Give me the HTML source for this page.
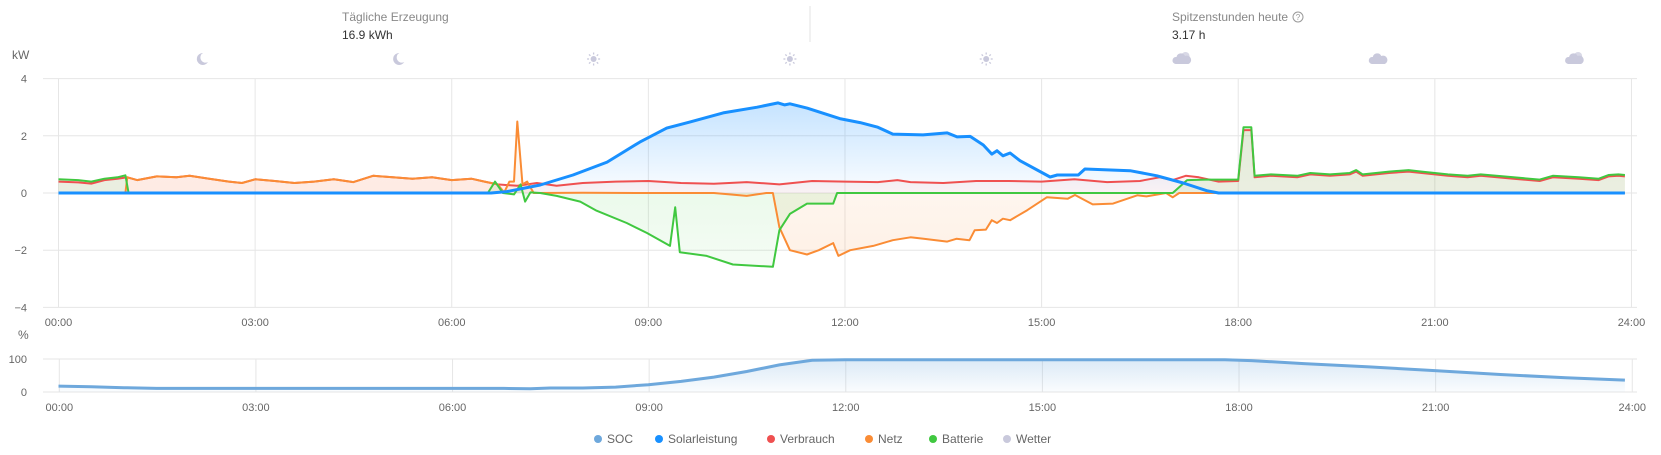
<!DOCTYPE html>
<html><head><meta charset="utf-8"><style>
body{margin:0;background:#fff;width:1661px;height:455px;overflow:hidden;font-family:"Liberation Sans",sans-serif}
svg{position:absolute;left:0;top:0}
</style></head><body>
<svg id="s" width="1661" height="455" xmlns="http://www.w3.org/2000/svg" font-family="Liberation Sans, sans-serif">
<defs>
<linearGradient id="gb" x1="0" y1="0" x2="0" y2="1"><stop offset="0" stop-color="#1890ff" stop-opacity="0.25"/><stop offset="1" stop-color="#1890ff" stop-opacity="0.02"/></linearGradient>
<linearGradient id="go" x1="0" y1="0" x2="0" y2="1"><stop offset="0" stop-color="#fa8c35" stop-opacity="0.04"/><stop offset="1" stop-color="#fa8c35" stop-opacity="0.12"/></linearGradient>
<linearGradient id="gg" x1="0" y1="0" x2="0" y2="1"><stop offset="0" stop-color="#3cc83c" stop-opacity="0.15"/><stop offset="1" stop-color="#3cc83c" stop-opacity="0.05"/></linearGradient>
<linearGradient id="gs" x1="0" y1="0" x2="0" y2="1"><stop offset="0" stop-color="#6ea8dc" stop-opacity="0.25"/><stop offset="1" stop-color="#6ea8dc" stop-opacity="0.03"/></linearGradient>
</defs>
<text x="342" y="21" font-size="12" fill="#888">Tägliche Erzeugung</text>
<text x="342" y="39" font-size="12" fill="#333">16.9 kWh</text>
<line x1="810" y1="6" x2="810" y2="42" stroke="#e3e3e3"/>
<text x="1172" y="21" font-size="12" fill="#888">Spitzenstunden heute</text>
<circle cx="1298" cy="17" r="5" fill="none" stroke="#999"/><text x="1298" y="20" font-size="8" fill="#999" text-anchor="middle">?</text>
<text x="1172" y="39" font-size="12" fill="#333">3.17  h</text>
<text x="12" y="59" font-size="12" fill="#666">kW</text>
<text x="18" y="339" font-size="12" fill="#666">%</text>
<g id="g"></g>
</svg>
<script>
var S=document.getElementById('g'),h='';
function X(t){return 58.5+65.54*t}function Y(v){return 193-28.6*v}
// grid
[4,2,0,-2,-4].forEach(function(v){h+='<line x1="43" x2="1637" y1="'+Y(v)+'" y2="'+Y(v)+'" stroke="#e6e6e6"/>';h+='<text x="27" y="'+(Y(v)+4)+'" font-size="11" fill="#666" text-anchor="end">'+(v<0?'−'+(-v):v)+'</text>'});
for(var i=0;i<=8;i++){var x=X(i*3);var l=('0'+i*3).slice(-2)+':00';
h+='<line x1="'+x+'" x2="'+x+'" y1="79" y2="307" stroke="#e6e6e6"/>';
h+='<line x1="'+(x+0.8)+'" x2="'+(x+0.8)+'" y1="359" y2="392" stroke="#e6e6e6"/>';
h+='<text x="'+x+'" y="326" font-size="11" fill="#666" text-anchor="middle">'+l+'</text>';
h+='<text x="'+(x+0.8)+'" y="411" font-size="11" fill="#666" text-anchor="middle">'+l+'</text>';}
h+='<line x1="43" x2="1637" y1="359" y2="359" stroke="#e6e6e6"/><line x1="43" x2="1637" y1="392" y2="392" stroke="#e6e6e6"/>';
h+='<text x="27" y="363" font-size="11" fill="#666" text-anchor="end">100</text><text x="27" y="396" font-size="11" fill="#666" text-anchor="end">0</text>';
// weather icons
var ic=['m','m','s','s','s','c','k','c'];
ic.forEach(function(k,i){var x=201+196.3*i,y=59,c='#c9c9dc';
if(k=='m')h+='<path d="M'+(x+2)+' '+(y-6)+'a6 6 0 1 0 5 9a5 5 0 0 1 -5 -9z" fill="'+c+'"/>';
else if(k=='s'){h+='<circle cx="'+x+'" cy="'+y+'" r="3" fill="'+c+'"/>';for(var a=0;a<8;a++){var r=a*Math.PI/4;h+='<line x1="'+(x+4.5*Math.cos(r))+'" y1="'+(y+4.5*Math.sin(r))+'" x2="'+(x+6.5*Math.cos(r))+'" y2="'+(y+6.5*Math.sin(r))+'" stroke="'+c+'" stroke-width="1.3"/>';}}
else{ if(k=='c')h+='<circle cx="'+(x+3)+'" cy="'+(y-3)+'" r="4" fill="#d8d8e6"/>';
h+='<path d="M'+(x-7)+' '+(y+5)+'a3.5 3.5 0 0 1 1-7a4.5 4.5 0 0 1 8.5-1a3.5 3.5 0 0 1 3.5 8z" fill="'+c+'"/>';}
});
function P(d){return d.map(function(p,i){return (i?'L':'M')+X(p[0]).toFixed(1)+' '+Y(p[1]).toFixed(1)}).join('')}
function A(d,fill){return '<path d="'+P(d)+'L'+X(d[d.length-1][0])+' '+Y(0)+'L'+X(d[0][0])+' '+Y(0)+'Z" fill="'+fill+'"/>'}
function Lp(d,c,w){return '<path d="'+P(d)+'" fill="none" stroke="'+c+'" stroke-width="'+w+'" stroke-linejoin="round"/>'}
// consumption base (night)
var night=[[0,.4],[.3,.37],[.5,.33],[.7,.45],[.9,.5],[1.05,.55],[1.2,.45],[1.5,.58],[1.8,.55],[2,.6],[2.3,.5],[2.6,.4],[2.8,.35],[3,.48],[3.3,.42],[3.6,.35],[3.9,.4],[4.2,.48],[4.5,.38],[4.8,.6],[5.1,.55],[5.4,.5],[5.7,.55],[6,.45],[6.3,.5],[6.5,.4]];
var red=night.concat([[6.7,.3],[7,.25],[7.3,.35],[7.6,.25],[8,.35],[8.5,.4],[9,.42],[9.5,.35],[10,.32],[10.5,.38],[11,.3],[11.5,.42],[12,.4],[12.5,.38],[12.8,.45],[13,.38],[13.5,.35],[14,.42],[14.5,.42],[15,.4],[15.5,.48],[16,.38],[16.5,.42],[16.8,.55],[17,.45],[17.2,.6],[17.4,.55],[17.7,.4],[18,.42],[18.08,2.2],[18.2,2.2],[18.25,.55],[18.5,.6],[18.9,.55],[19.1,.65],[19.4,.6],[19.7,.65],[19.8,.75],[19.9,.6],[20.3,.7],[20.6,.75],[20.8,.7],[21.2,.6],[21.5,.55],[21.7,.6],[22.2,.5],[22.6,.42],[22.8,.55],[23.2,.5],[23.5,.45],[23.65,.58],[23.8,.6],[23.9,.58]]);
var blue=[[0,0],[6.6,0],[6.84,.05],[7.35,.28],[7.85,.63],[8.37,1.08],[8.87,1.78],[9.28,2.27],[9.63,2.48],[10.14,2.8],[10.66,3.0],[10.98,3.15],[11.08,3.08],[11.16,3.12],[11.42,2.97],[11.92,2.6],[12.23,2.46],[12.5,2.3],[12.73,2.06],[13.19,2.03],[13.56,2.1],[13.71,1.96],[13.91,1.98],[14.11,1.68],[14.24,1.36],[14.32,1.48],[14.41,1.3],[14.52,1.4],[14.67,1.13],[15.13,.56],[15.24,.63],[15.56,.63],[15.66,.84],[16.35,.78],[16.76,.6],[17.16,.35],[17.52,.08],[17.7,0],[23.9,0]];
var orange=[[0,0],[1.02,0],[1.05,.55]].concat(night.slice(6)).concat([[6.7,.3],[6.8,.02],[6.88,.4],[6.95,.4],[7.0,2.5],[7.08,.3],[7.15,.4],[7.25,0],[8,.01],[9,0],[10,0],[10.5,-.1],[10.8,.0],[10.9,0],[11.0,-1.2],[11.16,-2.0],[11.42,-2.15],[11.6,-2.0],[11.82,-1.75],[11.9,-2.2],[12.08,-2.0],[12.43,-1.85],[12.73,-1.65],[13.0,-1.55],[13.2,-1.6],[13.56,-1.7],[13.7,-1.6],[13.9,-1.65],[13.98,-1.3],[14.15,-1.28],[14.24,-.95],[14.32,-1.05],[14.41,-.9],[14.52,-.95],[14.78,-.6],[15.08,-.15],[15.4,-.2],[15.51,-.07],[15.78,-.4],[16.09,-.37],[16.46,-.08],[16.6,-.12],[16.9,0],[17.0,-.15],[17.1,0],[23.9,0]]);
var green=[[0,.48],[.3,.45],[.5,.4],[.7,.5],[.9,.55],[1.02,.62],[1.07,0],[6.55,0],[6.66,.4],[6.78,0],[6.95,-.05],[7.05,.3],[7.12,-.3],[7.2,.02],[7.35,0],[7.6,-.1],[7.96,-.3],[8.21,-.62],[8.67,-1.05],[8.98,-1.4],[9.33,-1.85],[9.41,-.5],[9.48,-2.07],[9.89,-2.2],[10.29,-2.5],[10.9,-2.58],[11.0,-1.3],[11.16,-.73],[11.42,-.37],[11.82,-.37],[11.88,0],[17.0,0],[17.22,.45],[17.5,.47],[18,.47],[18.08,2.3],[18.2,2.3],[18.25,.6]].concat(red.slice(red.findIndex(function(p){return p[0]==18.5})).map(function(p){return [p[0],p[1]+.05]}));
h+=A(blue,'url(#gb)')+A(orange,'url(#go)')+A(green,'url(#gg)')+A(red,'rgba(240,75,75,0.06)');
h+=Lp(red,'#ef5050',2)+Lp(orange,'#fa8c35',2)+Lp(green,'#40c840',2)+Lp(blue,'#1890ff',3);
// SOC
var soc=[[0,18],[.5,16],[1,13],[1.5,11],[6.8,11],[7.2,10],[7.5,12],[8,12],[8.5,15],[9,22],[9.5,32],[10,45],[10.5,62],[11,82],[11.5,96],[12,98],[17.8,98],[18.2,95],[19,86],[20,76],[21,65],[22,53],[23,43],[23.9,36]];
function SY(v){return 392-0.33*v}
var sp=soc.map(function(p,i){return (i?'L':'M')+X(p[0]).toFixed(1)+' '+SY(p[1]).toFixed(1)}).join('');
h+='<path d="'+sp+'L'+X(23.9)+' 392L'+X(0)+' 392Z" fill="url(#gs)"/><path d="'+sp+'" fill="none" stroke="#6ea8dc" stroke-width="3"/>';
// legend
[['SOC','#6ea8dc',598],['Solarleistung','#1890ff',659],['Verbrauch','#ef5050',771],['Netz','#fa8c35',869],['Batterie','#40c840',933],['Wetter','#c9c9dc',1007]].forEach(function(l){
h+='<circle cx="'+l[2]+'" cy="439" r="4" fill="'+l[1]+'"/><text x="'+(l[2]+9)+'" y="443" font-size="12" fill="#666">'+l[0]+'</text>'});
S.innerHTML=h;
</script>
</body></html>
